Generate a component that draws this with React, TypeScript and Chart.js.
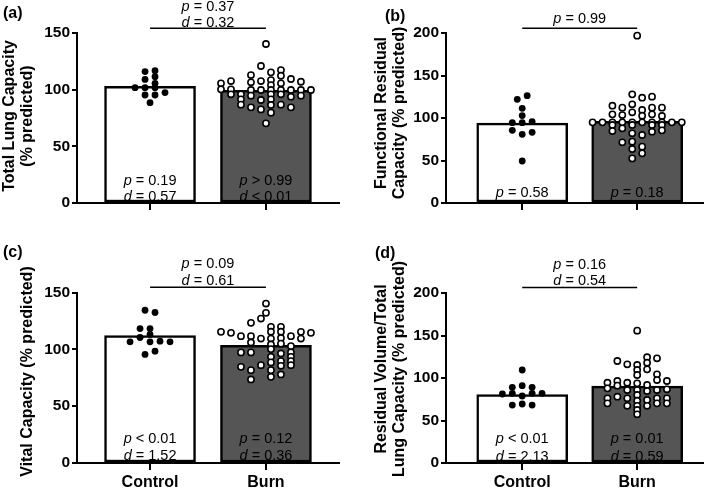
import React, { useEffect, useRef } from 'react';
import { Chart, registerables } from 'chart.js';

Chart.register(...registerables);

const FONT = '"Liberation Sans", Arial, Helvetica, sans-serif';
const SLOT = 5 / 116; // horizontal spacing of the dot columns (x units)

const groups = ['Control', 'Burn'];

// ---------- (a) Total Lung Capacity ----------
const tlcBars = [103, 99.5];
const tlcControl = [116, 116.8, 109, 111.5, 105.6, 101.8, 101.8, 101.8, 95.3, 95.3, 97.4, 88.5];
const tlcControlSlot = [-1, 1, -1, 1, 1, -3, -1, 1, -1, 1, 3, 0];
const tlcBurn = [140.3, 70.3, 120.9, 107.6, 99.7, 90.9, 82.6, 115.3, 108.5, 104, 99.7, 95.9, 91.5, 86.5, 79.7,
  112.9, 106.5, 99.7, 94.7, 84.4, 117.3, 112.3, 105.6, 99.7, 95.9, 86.8, 95.9, 91.5, 86.8, 109.4, 99.7, 93.8, 84.4,
  107.6, 100.3, 95.9, 107, 99.7, 94.7, 105.6, 100.3, 99.7];
const tlcBurnSlot = [0, 0, -1, -1, -1, -1, -1, 1, 1, 1, 1, 1, 1, 1, 1,
  -3, -3, -3, -3, -3, 3, 3, 3, 3, 3, 3, -5, -5, -5, 5, 5, 5, 5,
  -7, -7, -7, 7, 7, 7, -9, -9, 9];
const tlcCompare = [['p', ' = 0.37'], ['d', ' = 0.32']];
const tlcControlStats = [['p', ' = 0.19'], ['d', ' = 0.57']];
const tlcBurnStats = [['p', ' > 0.99'], ['d', ' < 0.01']];

// ---------- (b) Functional Residual Capacity ----------
const frcBars = [94, 96];
const frcControl = [122, 126.3, 111.4, 102.8, 94.5, 94.5, 95.7, 85.5, 80.8, 83.1, 49.4];
const frcControlSlot = [-1, 1, 0, 0, -2, 0, 2, -2, 0, 2, 0];
const frcBurn = [196.9, 94.9, 94.9, 114.5, 104.3, 94.9, 91.8, 84.7, 112.2, 103.5, 94.9, 87.8, 71.4,
  127.8, 116.1, 106.7, 94.9, 91.8, 82, 72.2, 63.5, 52.5, 123.9, 109.4, 102.7, 94.9, 80, 66.3, 58.4,
  125.1, 112.2, 104.3, 94.9, 91.8, 83.9, 112.2, 102.4, 94.9, 91.8, 85.5, 94.9, 94.9];
const frcBurnSlot = [0, -9, -7, -5, -5, -5, -5, -5, -3, -3, -3, -3, -3,
  -1, -1, -1, -1, -1, -1, -1, -1, -1, 1, 1, 1, 1, 1, 1, 1,
  3, 3, 3, 3, 3, 3, 5, 5, 5, 5, 5, 7, 9];
const frcCompare = [['p', ' = 0.99']];
const frcControlStats = [['p', ' = 0.58']];
const frcBurnStats = [['p', ' = 0.18']];

// ---------- (c) Vital Capacity ----------
const vcBars = [112, 103.5];
const vcControl = [134.4, 132.4, 118.3, 118.3, 110.4, 113.1, 106.6, 106.6, 107.2, 106.6, 95.5, 98.4];
const vcControlSlot = [-1, 1, -2, 0, -2, 0, -4, 0, 2, 4, -1, 1];
const vcBurn = [140.3, 132.1, 127.1, 109.5, 86.1, 119.8, 115.5, 109.5, 104.3, 100.2, 93.4, 88.5, 81.7, 75.8,
  123.3, 111.6, 106, 97.3, 81.7, 73.5, 119.8, 115.5, 110, 105, 96.4, 89.6, 85.5, 77.9,
  111.6, 97.3, 84.6, 111.6, 102.8, 97.3, 93.4, 89.6, 86.1, 114.5, 115.4, 109.5, 115.4, 114.5];
const vcBurnSlot = [0, 0, -1, -1, -1, 1, 1, 1, 1, 1, 1, 1, 1, 1,
  -3, -3, -3, -3, -3, -3, 3, 3, 3, 3, 3, 3, 3, 3,
  -5, -5, -5, 5, 5, 5, 5, 5, 5, -7, 7, 7, -9, 9];
const vcCompare = [['p', ' = 0.09'], ['d', ' = 0.61']];
const vcControlStats = [['p', ' < 0.01'], ['d', ' = 1.52']];
const vcBurnStats = [['p', ' = 0.12'], ['d', ' = 0.36']];

// ---------- (d) Residual Volume / Total Lung Capacity ----------
const rvBars = [80.5, 90.5];
const rvControl = [109.4, 89, 91, 89, 81.2, 82, 78.8, 82, 82, 68.2, 69.4, 68.2];
const rvControlSlot = [0, -2, 0, 2, -4, -2, 0, 2, 4, -2, 0, 2];
const rvBurn = [94.5, 87.8, 76.1, 70.2, 120, 96.5, 91, 78, 116.1, 94.5, 85.9, 76.1, 67.3,
  155.7, 115.3, 109.4, 103.5, 93.7, 85.9, 80, 73.3, 67.3, 62.4, 57.3,
  124.4, 118, 110.2, 91.8, 84.7, 74.1, 67.3, 123.2, 104.3, 97.6, 85.9, 76.1, 70.2, 96.5, 86.7, 76.1, 70.2];
const rvBurnSlot = [-6, -6, -6, -6, -4, -4, -4, -4, -2, -2, -2, -2, -2,
  0, 0, 0, 0, 0, 0, 0, 0, 0, 0, 0,
  2, 2, 2, 2, 2, 2, 2, 4, 4, 4, 4, 4, 4, 6, 6, 6, 6];
const rvCompare = [['p', ' = 0.16'], ['d', ' = 0.54']];
const rvControlStats = [['p', ' < 0.01'], ['d', ' = 2.13']];
const rvBurnStats = [['p', ' = 0.01'], ['d', ' = 0.59']];

type Panel = {
  key: string; label: string;
  left: number; top: number; width: number; height: number;
  yMax: number; xMin: number; xMax: number;
  yAxisWidth: number; padTop: number; padRight: number; xAxisHeight: number;
  showXLabels: boolean;
  title: string[]; titleX: number[]; titleY: number;
  labelX: number; labelY: number;
  bars: number[];
  control: number[]; controlSlot: number[];
  burn: number[]; burnSlot: number[];
  compare: string[][]; compareDy: number[]; bracketDy: number;
  controlStats: string[][]; burnStats: string[][]; statDy: number[];
};

const panels: Panel[] = [
  {
    key: 'a', label: '(a)', left: 0, top: 0, width: 354, height: 244,
    yMax: 150, xMin: -0.63, xMax: 1.63, yAxisWidth: 77, padTop: 33, padRight: 15, xAxisHeight: 41,
    showXLabels: false, title: ['Total Lung Capacity', '(% predicted)'], titleX: [10, 28], titleY: 116,
    labelX: 3, labelY: 14, bars: tlcBars,
    control: tlcControl, controlSlot: tlcControlSlot, burn: tlcBurn, burnSlot: tlcBurnSlot,
    compare: tlcCompare, compareDy: [-26.5, -10.5], bracketDy: -4.7,
    controlStats: tlcControlStats, burnStats: tlcBurnStats, statDy: [-22, -6.3],
  },
  {
    key: 'b', label: '(b)', left: 354, top: 0, width: 355, height: 244,
    yMax: 200, xMin: -0.663, xMax: 1.576, yAxisWidth: 92, padTop: 33, padRight: 4, xAxisHeight: 41,
    showXLabels: false, title: ['Functional Residual', 'Capacity (% predicted)'], titleX: [27.7, 45.7], titleY: 113,
    labelX: 31, labelY: 16.5, bars: frcBars,
    control: frcControl, controlSlot: frcControlSlot, burn: frcBurn, burnSlot: frcBurnSlot,
    compare: frcCompare, compareDy: [-14.5], bracketDy: -4.7,
    controlStats: frcControlStats, burnStats: frcBurnStats, statDy: [-10.5],
  },
  {
    key: 'c', label: '(c)', left: 0, top: 244, width: 354, height: 244,
    yMax: 150, xMin: -0.63, xMax: 1.63, yAxisWidth: 77, padTop: 48.5, padRight: 15, xAxisHeight: 25,
    showXLabels: true, title: ['Vital Capacity (% predicted)'], titleX: [28], titleY: 127.5,
    labelX: 3, labelY: 8.5, bars: vcBars,
    control: vcControl, controlSlot: vcControlSlot, burn: vcBurn, burnSlot: vcBurnSlot,
    compare: vcCompare, compareDy: [-28.5, -11.8], bracketDy: -5.2,
    controlStats: vcControlStats, burnStats: vcBurnStats, statDy: [-24, -7.3],
  },
  {
    key: 'd', label: '(d)', left: 354, top: 244, width: 355, height: 244,
    yMax: 200, xMin: -0.663, xMax: 1.576, yAxisWidth: 92, padTop: 49, padRight: 4, xAxisHeight: 25,
    showXLabels: true, title: ['Residual Volume/Total', 'Lung Capacity (% predicted)'], titleX: [28, 46], titleY: 125,
    labelX: 21, labelY: 9.7, bars: rvBars,
    control: rvControl, controlSlot: rvControlSlot, burn: rvBurn, burnSlot: rvBurnSlot,
    compare: rvCompare, compareDy: [-28.5, -12], bracketDy: -5.5,
    controlStats: rvControlStats, burnStats: rvBurnStats, statDy: [-24, -6.5],
  },
];

function richText(ctx: CanvasRenderingContext2D, part: string[], cx: number, cy: number) {
  const italic = `italic 14.5px ${FONT}`;
  const normal = `14.5px ${FONT}`;
  ctx.font = italic;
  const w1 = ctx.measureText(part[0]).width;
  ctx.font = normal;
  const w2 = ctx.measureText(part[1]).width;
  const x = cx - (w1 + w2) / 2;
  ctx.textAlign = 'left';
  ctx.textBaseline = 'middle';
  ctx.font = italic;
  ctx.fillText(part[0], x, cy);
  ctx.font = normal;
  ctx.fillText(part[1], x + w1, cy);
}

function makeConfig(p: Panel): any {
  const annot = {
    id: 'annot',
    afterDraw(chart: any) {
      const ctx: CanvasRenderingContext2D = chart.ctx;
      const area = chart.chartArea;
      const xs = chart.scales.x;
      const x0 = xs.getPixelForValue(0);
      const x1 = xs.getPixelForValue(1);
      ctx.save();
      ctx.fillStyle = '#000';
      ctx.strokeStyle = '#000';
      // panel label
      ctx.font = `bold 16px ${FONT}`;
      ctx.textAlign = 'left';
      ctx.textBaseline = 'middle';
      ctx.fillText(p.label, p.labelX, p.labelY);
      // y-axis title
      ctx.save();
      ctx.translate(0, p.titleY);
      ctx.rotate(-Math.PI / 2);
      ctx.textAlign = 'center';
      ctx.textBaseline = 'middle';
      ctx.font = `bold 16px ${FONT}`;
      p.title.forEach((t, i) => ctx.fillText(t, 0, p.titleX[i]));
      ctx.restore();
      // comparison bracket
      ctx.lineWidth = 1.5;
      ctx.beginPath();
      ctx.moveTo(x0, area.top + p.bracketDy);
      ctx.lineTo(x1, area.top + p.bracketDy);
      ctx.stroke();
      p.compare.forEach((s, i) => richText(ctx, s, (x0 + x1) / 2, area.top + p.compareDy[i]));
      p.controlStats.forEach((s, i) => richText(ctx, s, x0, area.bottom + p.statDy[i]));
      p.burnStats.forEach((s, i) => richText(ctx, s, x1, area.bottom + p.statDy[i]));
      ctx.restore();
    },
  };

  return {
    type: 'bar',
    data: {
      datasets: [
        {
          type: 'scatter',
          data: p.control.map((v, i) => ({ x: 0 + p.controlSlot[i] * SLOT, y: v })),
          pointRadius: 3.4,
          pointBackgroundColor: '#000',
          pointBorderWidth: 0,
          clip: false,
          order: 0,
        },
        {
          type: 'scatter',
          data: p.burn.map((v, i) => ({ x: 1 + p.burnSlot[i] * SLOT, y: v })),
          pointRadius: 3.1,
          pointBackgroundColor: '#fff',
          pointBorderColor: '#000',
          pointBorderWidth: 1.6,
          clip: false,
          order: 1,
        },
        {
          type: 'bar',
          data: p.bars.map((v, i) => ({ x: i, y: v })),
          backgroundColor: ['#ffffff', '#555555'],
          borderColor: '#000',
          borderWidth: 2.5,
          borderSkipped: false,
          barThickness: 91,
          order: 2,
        },
      ],
    },
    options: {
      responsive: false,
      animation: false,
      devicePixelRatio: 1,
      events: [],
      layout: { padding: { top: p.padTop, right: p.padRight, left: 0, bottom: 0 } },
      plugins: { legend: { display: false }, tooltip: { enabled: false }, title: { display: false } },
      scales: {
        x: {
          type: 'linear',
          min: p.xMin,
          max: p.xMax,
          offset: false,
          afterBuildTicks: (s: any) => { s.ticks = [{ value: 0 }, { value: 1 }]; },
          afterFit: (s: any) => { s.height = p.xAxisHeight; },
          grid: { drawOnChartArea: false, drawTicks: true, tickLength: 7, color: '#000', lineWidth: 2, offset: false },
          border: { display: true, color: '#000', width: 2 },
          ticks: {
            autoSkip: false,
            maxRotation: 0,
            padding: 3,
            color: '#000',
            font: { family: FONT, size: 16, weight: 'bold' },
            callback: (v: any) => (p.showXLabels ? groups[Math.round(v)] : ''),
          },
        },
        y: {
          type: 'linear',
          min: 0,
          max: p.yMax,
          afterFit: (s: any) => { s.width = p.yAxisWidth; },
          grid: { drawOnChartArea: false, drawTicks: true, tickLength: 5, color: '#000', lineWidth: 2 },
          border: { display: true, color: '#000', width: 2 },
          ticks: {
            stepSize: 50,
            padding: 2,
            color: '#000',
            font: { family: FONT, size: 15.5, weight: 'bold' },
          },
        },
      },
    },
    plugins: [annot],
  };
}

function PanelChart({ p }: { p: Panel }) {
  const ref = useRef<HTMLCanvasElement>(null);
  useEffect(() => {
    if (!ref.current) return;
    const chart = new Chart(ref.current, makeConfig(p));
    return () => chart.destroy();
  }, [p]);
  return (
    <canvas
      ref={ref}
      width={p.width}
      height={p.height}
      style={{ position: 'absolute', left: p.left, top: p.top, width: p.width, height: p.height, display: 'block' }}
    />
  );
}

export default function App() {
  return (
    <div style={{ position: 'fixed', left: 0, top: 0, width: 709, height: 488, background: '#fff', overflow: 'hidden' }}>
      {panels.map((p) => (
        <PanelChart key={p.key} p={p} />
      ))}
    </div>
  );
}
